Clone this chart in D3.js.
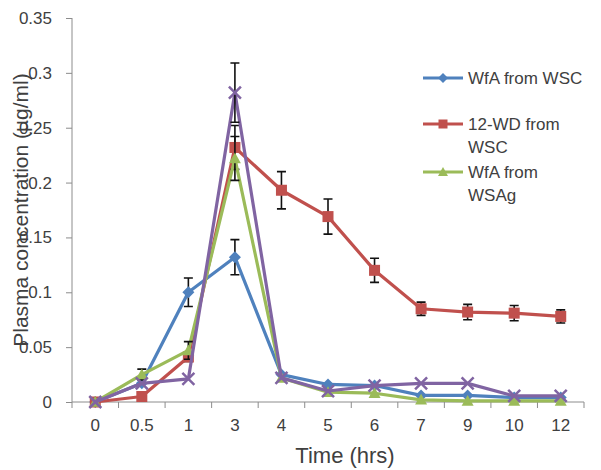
<!DOCTYPE html>
<html><head><meta charset="utf-8">
<script src="https://cdn.jsdelivr.net/npm/d3@7"></script>
<style>body{margin:0;background:#fff}svg{display:block}text{font-family:"Liberation Sans",Arial,sans-serif}</style>
</head><body><svg id="c" width="601" height="470"></svg>
<script>
const categories = ["0","0.5","1","3","4","5","6","7","9","10","12"];
const yTicks = [0,0.05,0.1,0.15,0.2,0.25,0.3,0.35];
const wfaWSC = [0,0.017,0.1,0.132,0.025,0.016,0.015,0.006,0.006,0.004,0.004];
const wfaWSCerr = [0,0,0.013,0.016,0,0,0,0,0,0,0];
const wd12WSC = [0,0.005,0.041,0.232,0.193,0.169,0.12,0.085,0.082,0.081,0.078];
const wd12WSCerr = [0,0,0.004,0.02,0.017,0.016,0.011,0.006,0.007,0.007,0.006];
const wfaWSAg = [0,0.025,0.047,0.222,0.022,0.009,0.008,0.002,0.001,0.001,0.001];
const wfaWSAgErr = [0,0.005,0.008,0.02,0,0,0,0,0,0,0];
const series4 = [0,0.017,0.021,0.282,0.022,0.01,0.015,0.017,0.017,0.0055,0.0055];
const series4err = [0,0,0,0.027,0,0,0,0,0,0,0];
const seriesNames = ["WfA from WSC","12-WD from WSC","WfA from WSAg",""];

const series = [
  {name:seriesNames[0], v:wfaWSC, e:wfaWSCerr, color:"#4F81BD", marker:"diamond", legend:["WfA from WSC"]},
  {name:seriesNames[1], v:wd12WSC, e:wd12WSCerr, color:"#C0504D", marker:"square", legend:["12-WD from","WSC"]},
  {name:seriesNames[2], v:wfaWSAg, e:wfaWSAgErr, color:"#9BBB59", marker:"triangle", legend:["WfA from","WSAg"]},
  {name:seriesNames[3], v:series4, e:series4err, color:"#8064A2", marker:"x", legend:null}
];

const svg = d3.select("#c");
const x = d3.scaleBand().domain(categories).range([72,584]).padding(0);
const y = d3.scaleLinear().domain([0,0.35]).range([402,18]);
const textCol = "#404040";

// y axis
const ya = svg.append("g").attr("transform","translate(72,0)")
  .call(d3.axisLeft(y).tickValues(yTicks).tickSize(6).tickPadding(14).tickFormat(d=>d===0?"0":String(+d.toFixed(2))));
ya.select(".domain").attr("stroke","#8c8c8c").attr("d","M0,18V402");
ya.selectAll(".tick line").attr("stroke","#8c8c8c");
ya.selectAll(".tick text").attr("fill",textCol).style("font-size","17px");

// x axis
const xa = svg.append("g").attr("transform","translate(0,402)")
  .call(d3.axisBottom(x).tickSize(0).tickPadding(17));
xa.select(".domain").attr("stroke","#8c8c8c").attr("d","M72,0H584");
xa.selectAll(".tick text").attr("fill",textCol).style("font-size","17px");
const bounds = categories.map(c=>x(c)).concat([x.range()[1]]);
xa.selectAll(".xb").data(bounds).enter().append("line")
  .attr("x1",d=>d).attr("x2",d=>d).attr("y1",0).attr("y2",6).attr("stroke","#8c8c8c");

// titles
svg.append("text").attr("x",345).attr("y",463).attr("text-anchor","middle")
  .attr("fill",textCol).style("font-size","22px").text("Time (hrs)");
svg.append("text").attr("transform","translate(28,210) rotate(-90)").attr("text-anchor","middle")
  .attr("fill",textCol).style("font-size","21px").text("Plasma concentration (µg/ml)");

const cx = c=>x(c)+x.bandwidth()/2;
const line = d3.line().x((d,i)=>cx(categories[i])).y(d=>y(d));

function marker(g, type, color, px, py, s){
  if(type==="diamond"){
    g.append("path").attr("d",`M${px},${py-s}L${px+s},${py}L${px},${py+s}L${px-s},${py}Z`).attr("fill",color);
  } else if(type==="square"){
    g.append("rect").attr("x",px-s).attr("y",py-s).attr("width",2*s).attr("height",2*s).attr("fill",color);
  } else if(type==="triangle"){
    g.append("path").attr("d",`M${px},${py-s}L${px+s},${py+s*0.8}L${px-s},${py+s*0.8}Z`).attr("fill",color);
  } else {
    g.append("path").attr("d",`M${px-s},${py-s}L${px+s},${py+s}M${px-s},${py+s}L${px+s},${py-s}`)
      .attr("stroke",color).attr("stroke-width",2.5);
  }
}

series.forEach(s=>{
  const g = svg.append("g");
  g.append("path").datum(s.v).attr("d",line).attr("fill","none").attr("stroke",s.color).attr("stroke-width",3.2).attr("stroke-linejoin","round");
  s.v.forEach((v,i)=>{
    const e = s.e[i]; if(!e) return;
    const px = cx(categories[i]);
    g.append("path").attr("d",`M${px},${y(v+e)}V${y(v-e)}M${px-4.5},${y(v+e)}H${px+4.5}M${px-4.5},${y(v-e)}H${px+4.5}`)
      .attr("stroke","#111").attr("stroke-width",1.6).attr("fill","none");
  });
  s.v.forEach((v,i)=>{
    const sz = s.marker==="square"?5.5:6;
    marker(g, s.marker, s.color, cx(categories[i]), y(v), sz);
  });
});

// legend
const lg = svg.append("g");
let ly = [78,124,172];
series.filter(s=>s.legend).forEach((s,i)=>{
  const yy = ly[i];
  lg.append("line").attr("x1",423).attr("x2",463).attr("y1",yy).attr("y2",yy).attr("stroke",s.color).attr("stroke-width",3);
  marker(lg, s.marker, s.color, 443, yy, s.marker==="square"?4.5:5);
  s.legend.forEach((t,j)=>{
    lg.append("text").attr("x",468).attr("y",yy+6+j*23).attr("fill",textCol).style("font-size","17px").text(t);
  });
});
</script></body></html>
